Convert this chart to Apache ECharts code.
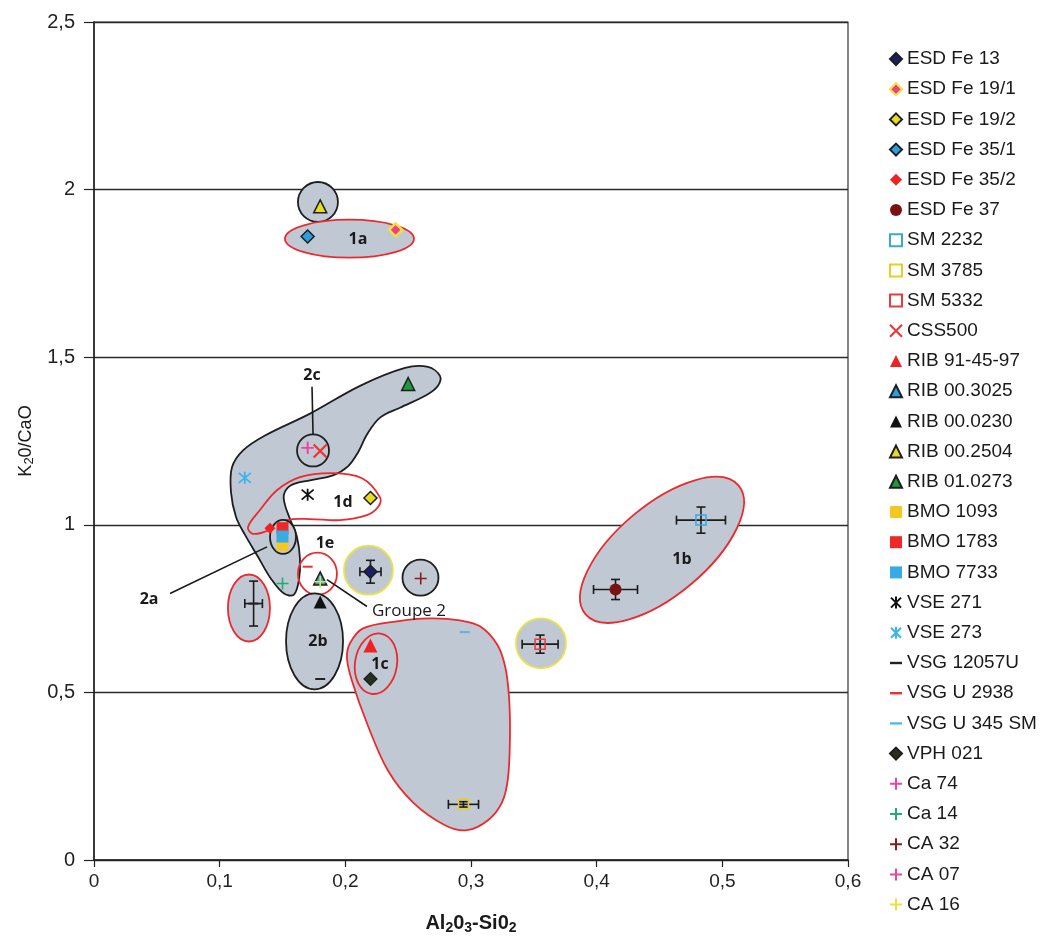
<!DOCTYPE html>
<html><head><meta charset="utf-8">
<script src="https://cdn.jsdelivr.net/npm/echarts@6/dist/echarts.min.js"></script>
<style>html,body{margin:0;padding:0;background:#fff}#c{width:1043px;height:940px}</style>
</head><body><div id="c"></div>
<script>
// ---------- data ----------
const xTickLabels = ['0', '0,1', '0,2', '0,3', '0,4', '0,5', '0,6'];
const yTickLabels = ['0', '0,5', '1', '1,5', '2', '2,5'];

const esdFe13   = [[0.22, 0.86]];
const esdFe191  = [[0.24, 1.88]];
const esdFe192  = [[0.22, 1.08]];
const esdFe351  = [[0.17, 1.86]];
const esdFe352  = [[0.14, 0.99]];
const esdFe37   = [[0.415, 0.807]];
const sm2232    = [[0.483, 1.014]];
const sm3785    = [[0.294, 0.166]];
const sm5332    = [[0.355, 0.644]];
const css500    = [[0.18, 1.22]];
const rib914597 = [[0.22, 0.64]];
const rib003025 = [[0.18, 0.84]];
const rib000230 = [[0.18, 0.77]];
const rib002504 = [[0.18, 1.95]];
const rib010273 = [[0.25, 1.42]];
const bmo1093   = [[0.15, 0.94]];
const bmo1783   = [[0.15, 0.99]];
const bmo7733   = [[0.15, 0.965]];
const vse271    = [[0.17, 1.09]];
const vse273    = [[0.12, 1.14]];
const vsg12057u = [[0.18, 0.54], [0.127, 0.765]];
const vsgU2938  = [[0.17, 0.875]];
const vsgU345sm = [[0.295, 0.68]];
const vph021    = [[0.22, 0.54]];
const ca74      = [[0.17, 1.23]];
const ca14      = [[0.15, 0.825]];
const ca32      = [[0.26, 0.84]];
const ca07      = [[0.17, 1.23]];
const ca16      = [[0.18, 0.83]];

// error bars: [x, y, +/-dx, +/-dy]
const errorBars = [
  [0.22, 0.86, 0.0084, 0.034],
  [0.415, 0.807, 0.0175, 0.03],
  [0.483, 1.014, 0.0195, 0.039],
  [0.294, 0.166, 0.012, 0.008],
  [0.355, 0.644, 0.0143, 0.027],
  [0.127, 0.765, 0.007, 0.067]
];

// group outlines (data units)
const blobGroup2 = [[0.2753,1.4442],[0.2658,1.4710],[0.2475,1.4680],[0.2117,1.4146],[0.1719,1.3316],[0.1361,1.2663],[0.1186,1.2218],[0.1098,1.1714],[0.1090,1.0973],[0.1130,1.0231],[0.1202,0.9698],[0.1305,0.9045],[0.1408,0.8393],[0.1512,0.7948],[0.1591,0.7918],[0.1631,0.8363],[0.1639,0.8986],[0.1615,0.9638],[0.1560,1.0172],[0.1520,1.0587],[0.1512,1.0913],[0.1568,1.1180],[0.1719,1.1329],[0.1902,1.1477],[0.2021,1.1744],[0.2101,1.2159],[0.2172,1.2693],[0.2276,1.3197],[0.2435,1.3493],[0.2650,1.3879],[0.2737,1.4146]];
const blobBottom = [[0.2037,0.6465],[0.2141,0.691],[0.2411,0.712],[0.2674,0.7206],[0.2912,0.7147],[0.3072,0.697],[0.3207,0.6435],[0.3271,0.5783],[0.3302,0.4893],[0.3310,0.3707],[0.3294,0.2432],[0.3247,0.1720],[0.3135,0.1186],[0.2968,0.0890],[0.2793,0.1038],[0.2538,0.1720],[0.2339,0.2669],[0.2180,0.4004],[0.2053,0.5338],[0.2013,0.6020]];
const loop1d = [[0.2276,1.082],[0.2133,1.139],[0.1902,1.154],[0.1639,1.142],[0.1456,1.103],[0.1321,1.044],[0.1225,0.993],[0.1265,0.973],[0.1400,0.985],[0.1536,1.014],[0.1719,1.017],[0.1958,1.014],[0.2172,1.029],[0.2260,1.053]];

const GRAY = '#bfc8d3', RED = '#ea2a2e', YEL = '#ece24a', BLK = '#1e1e1e';

const annots = [
  {kind:'poly', pts: blobGroup2, stroke: BLK, fill: GRAY},
  {kind:'poly', pts: blobBottom, stroke: RED, fill: GRAY},
  {kind:'ell', c:[0.1782,1.963], rx:20, ry:20, stroke:BLK, fill:GRAY},
  {kind:'ell', c:[0.2033,1.8535], rx:64.5, ry:19, stroke:RED, fill:GRAY},
  {kind:'ell', c:[0.1743,1.2218], rx:16, ry:16, stroke:BLK, fill:GRAY},
  {kind:'ell', c:[0.1233,0.7518], rx:21, ry:33.5, stroke:RED, fill:GRAY},
  {kind:'ell', c:[0.1778,0.8541], rx:19.5, ry:21, stroke:RED, fill:null},
  {kind:'ell', c:[0.1755,0.6524], rx:28.5, ry:48, stroke:BLK, fill:GRAY},
  {kind:'ell', c:[0.2184,0.8645], rx:24.5, ry:24.5, stroke:YEL, fill:GRAY},
  {kind:'ell', c:[0.2598,0.8422], rx:18, ry:18, stroke:BLK, fill:GRAY},
  {kind:'ell', c:[0.3557,0.6465], rx:25, ry:25, stroke:YEL, fill:GRAY},
  {kind:'ell', c:[0.452,0.9253], rx:100, ry:45, rot:40, stroke:RED, fill:GRAY},
  {kind:'ell', c:[0.2244,0.5857], rx:21, ry:30.5, rot:-9, stroke:RED, fill:GRAY},
  {kind:'poly', pts: loop1d, stroke:RED, fill:null},
  {kind:'ell', c:[0.1504,0.9638], rx:13, ry:17, stroke:BLK, fill:GRAY}
];

const groupLabels = [
  {t:'1a', p:[0.2101,1.8505]},
  {t:'2c', p:[0.1735,1.4442]},
  {t:'1d', p:[0.1981,1.0676]},
  {t:'1e', p:[0.1838,0.9431]},
  {t:'2a', p:[0.0438,0.7770]},
  {t:'2b', p:[0.1782,0.6524]},
  {t:'1c', p:[0.2276,0.5842]},
  {t:'1b', p:[0.4679,0.8956]},
  {t:'Groupe 2', p:[0.2212,0.7414], plain:true}
];
const leaderLines = [
  [[0.1735,1.4116],[0.1743,1.2693]],
  [[0.0605,0.7948],[0.1377,0.9342]],
  [[0.1854,0.8363],[0.2172,0.7562]]
];

// ---------- styles ----------
const X_PATH = 'path://M0,0L10,10M10,0L0,10';
const PLUS_PATH = 'path://M5,0L5,10M0,5L10,5';
const STAR_PATH = 'path://M0,0L10,10M10,0L0,10M5,-1L5,11';
const DASH_ICON = 'path://M0,0L10,0L10,2L0,2Z';

const defs = [
  {name:'ESD Fe 13', data:esdFe13, sym:'diamond', size:13, fill:'#1c1c6a', border:BLK, bw:1.5},
  {name:'ESD Fe 19/1', data:esdFe191, sym:'diamond', size:13, fill:'#f03c8a', border:'#f2e23c', bw:2.5},
  {name:'ESD Fe 19/2', data:esdFe192, sym:'diamond', size:13, fill:'#e6dc22', border:BLK, bw:1.5},
  {name:'ESD Fe 35/1', data:esdFe351, sym:'diamond', size:13, fill:'#2b9fdc', border:BLK, bw:1.5},
  {name:'ESD Fe 35/2', data:esdFe352, sym:'diamond', size:11, fill:'#ee2222'},
  {name:'ESD Fe 37', data:esdFe37, sym:'circle', size:12, fill:'#7b1111'},
  {name:'SM 2232', data:sm2232, sym:'rect', size:10, fill:'rgba(255,255,255,0)', border:'#3aa7e0', bw:1.5},
  {name:'SM 3785', data:sm3785, sym:'rect', size:10, fill:'rgba(255,255,255,0)', border:'#f0cc20', bw:1.5},
  {name:'SM 5332', data:sm5332, sym:'rect', size:10, fill:'rgba(255,255,255,0)', border:'#e83a3a', bw:1.5},
  {name:'CSS500', data:css500, sym:X_PATH, size:13, fill:'#ee3333', border:'#ee3333', bw:2.2},
  {name:'RIB 91-45-97', data:rib914597, sym:'triangle', size:14, fill:'#ee2222'},
  {name:'RIB 00.3025', data:rib003025, sym:'triangle', size:13, fill:'#2aa0dc', border:BLK, bw:1.5},
  {name:'RIB 00.0230', data:rib000230, sym:'triangle', size:13, fill:'#111111'},
  {name:'RIB 00.2504', data:rib002504, sym:'triangle', size:13, fill:'#e6dc22', border:BLK, bw:1.5},
  {name:'RIB 01.0273', data:rib010273, sym:'triangle', size:13, fill:'#1d9a3c', border:BLK, bw:1.5},
  {name:'BMO 1093', data:bmo1093, sym:'rect', size:12, fill:'#f4c81e'},
  {name:'BMO 1783', data:bmo1783, sym:'rect', size:12, fill:'#ee2828'},
  {name:'BMO 7733', data:bmo7733, sym:'rect', size:12, fill:'#36ace2'},
  {name:'VSE 271', data:vse271, sym:STAR_PATH, size:12, fill:'#111111', border:'#111111', bw:1.8},
  {name:'VSE 273', data:vse273, sym:STAR_PATH, size:12, fill:'#3ab4ec', border:'#3ab4ec', bw:1.8},
  {name:'VSG 12057U', data:vsg12057u, sym:'rect', size:[10,2], fill:'#222222', icon:DASH_ICON},
  {name:'VSG U 2938', data:vsgU2938, sym:'rect', size:[10,2], fill:'#ee3030', icon:DASH_ICON},
  {name:'VSG U 345 SM', data:vsgU345sm, sym:'rect', size:[10,2], fill:'#5eb2e4', icon:DASH_ICON},
  {name:'VPH 021', data:vph021, sym:'diamond', size:13, fill:'#27301a', border:BLK, bw:1.2},
  {name:'Ca 74', data:ca74, sym:PLUS_PATH, size:12, fill:'#f0449c', border:'#f0449c', bw:1.6},
  {name:'Ca 14', data:ca14, sym:PLUS_PATH, size:12, fill:'#22aa77', border:'#22aa77', bw:1.6},
  {name:'CA 32', data:ca32, sym:PLUS_PATH, size:12, fill:'#8c1c1c', border:'#8c1c1c', bw:1.6},
  {name:'CA 07', data:ca07, sym:PLUS_PATH, size:12, fill:'#f0449c', border:'#f0449c', bw:1.6},
  {name:'CA 16', data:ca16, sym:PLUS_PATH, size:12, fill:'#ece040', border:'#ece040', bw:1.6}
];

// ---------- series ----------
const scatterSeries = defs.map(d => ({
  type:'scatter', name:d.name, data:d.data, symbol:d.sym, symbolSize:d.size, z:4,
  itemStyle:{color:d.fill, borderColor:d.border || d.fill, borderWidth:d.bw || 0, opacity:1},
  emphasis:{disabled:true}, silent:true
}));

const shapeSeries = {
  type:'custom', name:'shapes', z:1, silent:true, clip:false,
  data: annots.map(a => a.kind === 'ell' ? a.c : a.pts[0]),
  renderItem: (params, api) => {
    const a = annots[params.dataIndex];
    const style = {fill: a.fill || 'none', stroke: a.stroke, lineWidth: 1.8};
    if (a.kind === 'poly') {
      return {type:'polygon', shape:{points: a.pts.map(p => api.coord(p)), smooth:0.35}, style};
    }
    const c = api.coord(a.c);
    return {type:'ellipse', x:c[0], y:c[1], rotation:(a.rot || 0) * Math.PI / 180,
      shape:{cx:0, cy:0, rx:a.rx, ry:a.ry}, style};
  }
};

const errorSeries = {
  type:'custom', name:'errors', z:3, silent:true,
  data: errorBars.map(e => [e[0], e[1]]),
  renderItem: (params, api) => {
    const [x, y, dx, dy] = errorBars[params.dataIndex];
    const l = api.coord([x - dx, y]), r = api.coord([x + dx, y]);
    const t = api.coord([x, y + dy]), b = api.coord([x, y - dy]);
    const cap = 4.5;
    const st = {stroke:'#1a1a1a', lineWidth:1.6};
    const line = (x1, y1, x2, y2) => ({type:'line', shape:{x1, y1, x2, y2}, style:st});
    return {type:'group', children:[
      line(l[0], l[1], r[0], r[1]),
      line(l[0], l[1] - cap, l[0], l[1] + cap),
      line(r[0], r[1] - cap, r[0], r[1] + cap),
      line(t[0], t[1], b[0], b[1]),
      line(t[0] - cap, t[1], t[0] + cap, t[1]),
      line(b[0] - cap, b[1], b[0] + cap, b[1])
    ]};
  }
};

const leaderSeries = {
  type:'custom', name:'leaders', z:2, silent:true,
  data: leaderLines.map(l => l[0]),
  renderItem: (params, api) => {
    const [p1, p2] = leaderLines[params.dataIndex];
    const a = api.coord(p1), b = api.coord(p2);
    return {type:'line', shape:{x1:a[0], y1:a[1], x2:b[0], y2:b[1]}, style:{stroke:'#1a1a1a', lineWidth:1.6}};
  }
};

const labelSeries = {
  type:'custom', name:'labels', z:5, silent:true,
  data: groupLabels.map(g => g.p),
  renderItem: (params, api) => {
    const g = groupLabels[params.dataIndex];
    const c = api.coord(g.p);
    return {type:'text', x:c[0], y:c[1], style:{
      text:g.t, fill:'#1a1a1a',
      font: g.plain ? '17px "Open Sans", sans-serif' : 'bold 16px "Open Sans", sans-serif',
      textAlign: g.plain ? 'left' : 'center', textVerticalAlign:'middle'}};
  }
};

const chart = echarts.init(document.getElementById('c'), null, {renderer:'canvas'});
chart.setOption({
  animation:false,
  backgroundColor:'#ffffff',
  grid:{left:94, right:195, top:22, bottom:75, show:true, borderColor:'#333', borderWidth:1.2, backgroundColor:'transparent'},
  xAxis:{
    type:'value', min:0, max:0.6, interval:0.1,
    name:'Al{s|2}0{s|3}-Si0{s|2}', nameLocation:'middle', nameGap:52,
    nameTextStyle:{fontFamily:'"Liberation Sans Narrow","Liberation Sans",Arial', fontWeight:'bold', fontSize:20, color:'#1a1a1a',
      rich:{s:{fontFamily:'"Liberation Sans Narrow","Liberation Sans",Arial', fontWeight:'bold', fontSize:14, verticalAlign:'bottom', padding:[9,0,0,0], color:'#1a1a1a'}}},
    axisLine:{lineStyle:{color:'#222', width:1.5}},
    axisTick:{inside:false, length:7, lineStyle:{color:'#222', width:1.2}},
    axisLabel:{margin:12, fontSize:19, color:'#222', fontFamily:'"Liberation Sans Narrow","Liberation Sans",Arial',
      formatter:(v, i) => xTickLabels[Math.round(v * 10)]},
    splitLine:{show:false}
  },
  yAxis:{
    type:'value', min:0, max:2.5, interval:0.5,
    name:'K{s|2}0/CaO', nameLocation:'middle', nameGap:55,
    nameTextStyle:{fontFamily:'"Liberation Sans Narrow","Liberation Sans",Arial', fontSize:18, color:'#1a1a1a',
      rich:{s:{fontFamily:'"Liberation Sans Narrow","Liberation Sans",Arial', fontSize:13, verticalAlign:'bottom', padding:[8,0,0,0], color:'#1a1a1a'}}},
    axisLine:{lineStyle:{color:'#222', width:1.5}},
    axisTick:{inside:false, length:10, lineStyle:{color:'#222', width:1.2}},
    axisLabel:{margin:19, fontSize:20, color:'#222', fontFamily:'"Liberation Sans",Arial',
      formatter:(v) => yTickLabels[Math.round(v * 2)]},
    splitLine:{show:true, lineStyle:{color:'#2a2a2a', width:1.4}}
  },
  legend:{
    orient:'vertical', left:884, top:44, itemWidth:12, itemHeight:12, itemGap:10.2,
    textStyle:{fontSize:19, color:'#1a1a1a', fontFamily:'"Liberation Sans",Arial', lineHeight:20},
    selectedMode:false,
    data: defs.map(d => d.icon ? {name:d.name, icon:d.icon} : {name:d.name})
  },
  series:[shapeSeries, leaderSeries, errorSeries, ...scatterSeries, labelSeries]
});
</script>
</body></html>
